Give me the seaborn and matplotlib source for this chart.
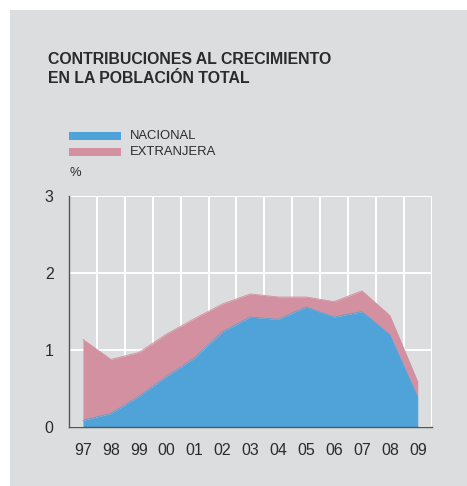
import numpy as np
import pandas as pd
import matplotlib
matplotlib.use("Agg")
import matplotlib.pyplot as plt
from matplotlib.patches import Rectangle
from matplotlib.ticker import FixedLocator
import seaborn as sns

# data (percentage points)
years = ["97", "98", "99", "00", "01", "02", "03", "04", "05", "06", "07", "08", "09"]
nacional = [0.09, 0.18, 0.40, 0.66, 0.90, 1.24, 1.43, 1.40, 1.56, 1.43, 1.50, 1.20, 0.39]
extranjera = [1.05, 0.70, 0.57, 0.55, 0.51, 0.36, 0.30, 0.29, 0.13, 0.20, 0.27, 0.25, 0.20]
title_lines = ["CONTRIBUCIONES AL CRECIMIENTO", "EN LA POBLACIÓN TOTAL"]

BG = "#dcdddf"
BLUE = "#50a3d8"
PINK = "#d290a0"
TXT = "#2b2b2b"

sns.set_theme(style="white")
plt.rcParams["font.family"] = ["Liberation Sans", "DejaVu Sans"]

df = pd.DataFrame({"year": years, "x": np.arange(len(years)),
                   "nacional": nacional, "extranjera": extranjera})
df["total"] = df["nacional"] + df["extranjera"]

fig = plt.figure(figsize=(4.67, 4.86), dpi=100)
fig.patch.set_facecolor("white")
# grey panel behind everything (white margin top and left)
fig.add_artist(Rectangle((10 / 467, 0), 1, 1 - 10 / 486, transform=fig.transFigure,
                         facecolor=BG, edgecolor="none", zorder=0))

ax = fig.add_axes([69 / 467, 1 - 427.3 / 486, 362.7 / 467, 231.3 / 486])
ax.set_facecolor(BG)

ax.stackplot(df["x"], df["nacional"], df["extranjera"], colors=[BLUE, PINK],
             linewidth=0, zorder=3)
sns.lineplot(data=df, x="x", y="nacional", ax=ax, color=BLUE, lw=0.6, zorder=4)
sns.lineplot(data=df, x="x", y="total", ax=ax, color=PINK, lw=0.6, zorder=4)

ax.set_xlim(-0.5, len(years) - 0.5)
ax.set_ylim(0, 3)
ax.set_xticks(df["x"])
ax.set_xticklabels(years)
ax.xaxis.set_minor_locator(FixedLocator(np.arange(0.5, len(years), 1)))
ax.set_yticks([0, 1, 2, 3])
ax.set_yticklabels(["0", "1", "2", "3"])
ax.set_xlabel("")
ax.set_ylabel("")

ax.grid(False)
ax.grid(axis="x", which="minor", color="white", lw=1.4, zorder=1)
ax.grid(axis="y", which="major", color="white", lw=1.4, zorder=1)
ax.set_axisbelow(True)

ax.tick_params(axis="both", which="both", length=0, colors=TXT, labelsize=11.5)
ax.tick_params(axis="x", pad=11)
ax.tick_params(axis="y", pad=11)

for side in ["top", "right"]:
    ax.spines[side].set_visible(False)
for side in ["left", "bottom"]:
    ax.spines[side].set_color("#555555")
    ax.spines[side].set_linewidth(1.0)
    ax.spines[side].set_zorder(5)

# title and legend drawn in pixel coordinates like the original
def px(x, y):
    return x / 467, 1 - y / 486

for line, base in zip(title_lines, [64, 82.7]):
    fig.text(*px(48, base), line, fontsize=11.4, fontweight="bold", color=TXT,
             ha="left", va="baseline")

for (label, color, yc) in [("NACIONAL", BLUE, 136), ("EXTRANJERA", PINK, 152)]:
    x0, y0 = px(69, yc + 4)
    fig.add_artist(Rectangle((x0, y0), 52 / 467, 8 / 486, transform=fig.transFigure,
                             facecolor=color, edgecolor="none"))
    fig.text(*px(130, yc), label, fontsize=9.4, color=TXT, ha="left", va="center")

fig.text(*px(69, 173), "%", fontsize=9.4, color=TXT, ha="left", va="center")

fig.savefig("out.png", dpi=100)
